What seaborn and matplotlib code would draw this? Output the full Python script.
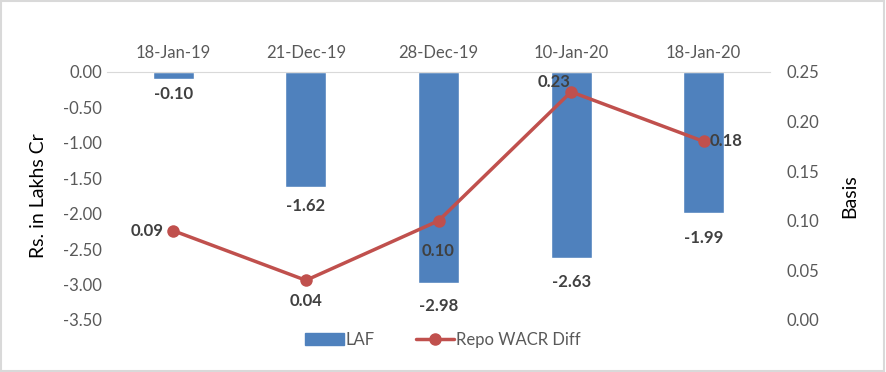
import matplotlib
matplotlib.use("Agg")
import matplotlib.pyplot as plt
import seaborn as sns
import numpy as np
import pandas as pd
from matplotlib.patches import Patch, Rectangle
from matplotlib.lines import Line2D

# chart data
dates = ["18-Jan-19", "21-Dec-19", "28-Dec-19", "10-Jan-20", "18-Jan-20"]
laf = [-0.10, -1.62, -2.98, -2.63, -1.99]
repo_wacr_diff = [0.09, 0.04, 0.10, 0.23, 0.18]

sns.set_style("white")
plt.rcParams["font.family"] = ["Lato", "DejaVu Sans"]

bar_col = "#4F81BD"
line_col = "#C0504D"
tick_col = "#595959"
lab_col = "#404040"

df = pd.DataFrame({"date": dates, "laf": laf, "diff": repo_wacr_diff, "pos": range(len(dates))})

fig = plt.figure(figsize=(8.86, 3.72), dpi=100)
ax = fig.add_axes([107/886, 1-320/372, (770-107)/886, (320-72)/372])

sns.barplot(data=df, x="date", y="laf", color=bar_col, width=0.31, saturation=1, ax=ax)
ax.set_ylim(-3.5, 0)
ax.set_xlim(-0.5, 4.5)
ax.set_yticks(np.arange(-3.5, 0.01, 0.5))
ax.set_yticklabels([f"{v:.2f}" for v in np.arange(-3.5, 0.01, 0.5)])
ax.xaxis.tick_top()
ax.set_xlabel("")
ax.set_ylabel("Rs. in Lakhs Cr", fontsize=14, color="black", labelpad=12)
ax.tick_params(axis="both", length=0, labelsize=12, labelcolor=tick_col)
ax.tick_params(axis="x", pad=8)
for s in ["left", "right", "bottom"]:
    ax.spines[s].set_visible(False)
ax.spines["top"].set_color("#D9D9D9")

# bar label offsets (points)
bar_offs = [-5, -8, -11, -11, -12]
for i, v in enumerate(laf):
    ax.annotate(f"{v:.2f}", (i, v), xytext=(0, bar_offs[i]), textcoords="offset points",
                ha="center", va="top", fontsize=12, fontweight="bold", color=lab_col)

ax2 = ax.twinx()
sns.lineplot(data=df, x="pos", y="diff", color=line_col, linewidth=2.5, marker="o",
             markersize=9, markeredgewidth=0, sort=False, ax=ax2)
ax2.set_ylim(0, 0.25)
ax2.set_xlim(-0.5, 4.5)
ax2.set_yticks(np.arange(0, 0.251, 0.05))
ax2.set_yticklabels([f"{v:.2f}" for v in np.arange(0, 0.251, 0.05)])
ax2.set_xlabel("")
ax2.set_ylabel("Basis", fontsize=14, color="black", labelpad=16)
ax2.tick_params(axis="y", length=0, labelsize=12, labelcolor=tick_col, pad=12)
for s in ax2.spines.values():
    s.set_visible(False)

# label offsets (points) for the line labels
offs = [(-7, 0, "right", "center"), (0, -9, "center", "top"), (0, -16, "center", "top"),
        (-12, 1, "center", "bottom"), (4, 0, "left", "center")]
for i, v in enumerate(repo_wacr_diff):
    dx, dy, ha, va = offs[i]
    ax2.annotate(f"{v:.2f}", (i, v), xytext=(dx, dy), textcoords="offset points",
                 ha=ha, va=va, fontsize=12, fontweight="bold", color=lab_col)

handles = [Patch(color=bar_col, label="LAF"),
           Line2D([0], [0], color=line_col, lw=2.5, marker="o", markersize=8, label="Repo WACR Diff")]
fig.legend(handles=handles, loc="center", bbox_to_anchor=(0.5, 1-340/372), ncol=2, frameon=False,
           fontsize=12, labelcolor=tick_col, handlelength=2.3, handletextpad=0.1, columnspacing=2.5)

fig.patches.append(Rectangle((0.001, 0.002), 0.997, 0.995, transform=fig.transFigure,
                             fill=False, edgecolor="#D9D9D9", lw=1.5))

fig.savefig("out.png", dpi=100)
